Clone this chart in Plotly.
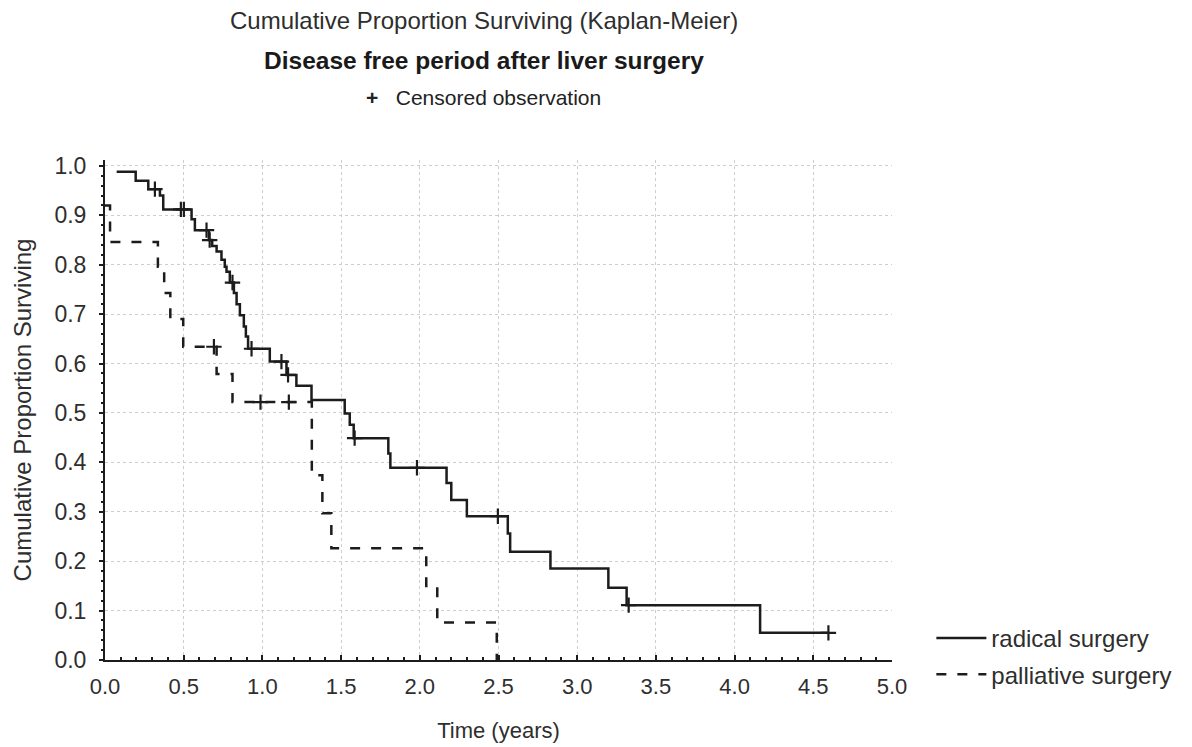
import plotly.graph_objects as go

# Kaplan-Meier step points: time (years) and cumulative proportion surviving after each step
radical_time = [0.074, 0.195, 0.275, 0.349, 0.370, 0.550, 0.571, 0.660, 0.681, 0.709,
                0.740, 0.761, 0.772, 0.793, 0.819, 0.836, 0.857, 0.882, 0.895, 0.909,
                1.047, 1.153, 1.216, 1.312, 1.523, 1.555, 1.580, 1.800, 1.813, 2.170,
                2.200, 2.299, 2.559, 2.574, 2.830, 3.198, 3.314, 4.162, 4.596]
radical_surv = [0.988, 0.970, 0.953, 0.940, 0.912, 0.892, 0.870, 0.850, 0.838, 0.827,
                0.810, 0.796, 0.786, 0.764, 0.743, 0.720, 0.698, 0.675, 0.655, 0.630,
                0.604, 0.577, 0.555, 0.526, 0.499, 0.476, 0.449, 0.418, 0.389, 0.358,
                0.324, 0.291, 0.256, 0.219, 0.185, 0.146, 0.111, 0.055, 0.055]

radical_cens_time = [0.317, 0.482, 0.501, 0.645, 0.665, 0.810, 0.931, 1.121, 1.163,
                     1.586, 1.982, 2.496, 3.327, 4.596]
radical_cens_surv = [0.953, 0.912, 0.912, 0.870, 0.850, 0.764, 0.630, 0.604, 0.577,
                     0.449, 0.389, 0.291, 0.111, 0.055]

palliative_time = [0.0, 0.032, 0.336, 0.376, 0.415, 0.497, 0.709, 0.810, 1.314, 1.381,
                   1.438, 2.041, 2.111, 2.489]
palliative_surv = [0.920, 0.846, 0.796, 0.743, 0.690, 0.634, 0.579, 0.522, 0.374, 0.297,
                   0.226, 0.150, 0.076, 0.0]

palliative_cens_time = [0.692, 0.988, 1.168]
palliative_cens_surv = [0.634, 0.522, 0.522]

x_ticks = [0.0, 0.5, 1.0, 1.5, 2.0, 2.5, 3.0, 3.5, 4.0, 4.5, 5.0]
y_ticks = [0.0, 0.1, 0.2, 0.3, 0.4, 0.5, 0.6, 0.7, 0.8, 0.9, 1.0]

FONT = "Liberation Sans, Arial, sans-serif"
INK = "#1c1c1c"
TEXT = "#2e2e2e"
GRID = "#cdcdcd"

fig = go.Figure()

fig.add_trace(go.Scatter(
    x=radical_time, y=radical_surv, mode="lines", line_shape="hv",
    line=dict(color=INK, width=2.5), name="radical surgery",
    legendgroup="a"))
fig.add_trace(go.Scatter(
    x=palliative_time, y=palliative_surv, mode="lines", line_shape="hv",
    line=dict(color=INK, width=2.5, dash="10px,11px"), name="palliative surgery",
    legendgroup="b"))

cross = dict(symbol="cross-thin", size=11, color=INK, line=dict(color=INK, width=2.2))
fig.add_trace(go.Scatter(x=radical_cens_time, y=radical_cens_surv, mode="markers",
                         marker=cross, showlegend=False, hoverinfo="skip"))
fig.add_trace(go.Scatter(x=palliative_cens_time, y=palliative_cens_surv, mode="markers",
                         marker=cross, showlegend=False, hoverinfo="skip"))

fig.update_layout(
    width=1192, height=747,
    margin=dict(l=105, r=300, t=160, b=87, autoexpand=False),
    paper_bgcolor="white", plot_bgcolor="white",
    font=dict(family=FONT, size=20, color=TEXT),
    legend=dict(x=1.05, y=0.088, xanchor="left", yanchor="top",
                font=dict(size=24, color=TEXT), tracegroupgap=2, itemwidth=50,
                bgcolor="rgba(0,0,0,0)"),
    xaxis=dict(range=[0, 5.0], tickvals=x_ticks, tickformat=".1f",
               showline=True, linecolor=INK, linewidth=2,
               ticks="inside", ticklen=5, tickcolor=INK, tickwidth=1.5,
               minor=dict(dtick=0.1, ticks="inside", ticklen=3, tickcolor=INK, showgrid=False),
               showgrid=True, gridcolor=GRID, griddash="dot", gridwidth=1,
               zeroline=False, ticklabelstandoff=6,
               title=dict(text="Time (years)", standoff=24,
                          font=dict(size=22, color=TEXT)),
               tickfont=dict(size=22, color=TEXT)),
    yaxis=dict(range=[0, 1.012], tickvals=y_ticks, tickformat=".1f",
               showline=True, linecolor=INK, linewidth=2,
               ticks="outside", ticklen=4, tickcolor=INK, tickwidth=1.5,
               minor=dict(dtick=0.02, ticks="outside", ticklen=2, tickcolor=INK, showgrid=False),
               showgrid=True, gridcolor=GRID, griddash="dot", gridwidth=1,
               zeroline=False, ticklabelstandoff=8,
               title=dict(text="Cumulative Proportion Surviving", standoff=16,
                          font=dict(size=24, color=TEXT)),
               tickfont=dict(size=23, color=TEXT)),
    annotations=[
        dict(text="Cumulative Proportion Surviving (Kaplan-Meier)", x=0.481, y=20,
             font=dict(size=24, color=TEXT)),
        dict(text="<b>Disease free period after liver surgery</b>", x=0.481, y=60,
             font=dict(size=24.5, color="#1a1a1a")),
        dict(text="<b>+</b>   Censored observation", x=0.481, y=98,
             font=dict(size=21, color="#222222")),
    ],
)

# annotation y positions are given in pixels from the top; convert to paper units
plot_top, plot_h = 160, 500
for ann in fig.layout.annotations:
    ann.y = (plot_top + plot_h - ann.y) / plot_h
    ann.xref = "paper"
    ann.yref = "paper"
    ann.yanchor = "middle"
    ann.xanchor = "center"
    ann.showarrow = False

fig.write_html("out.html")
